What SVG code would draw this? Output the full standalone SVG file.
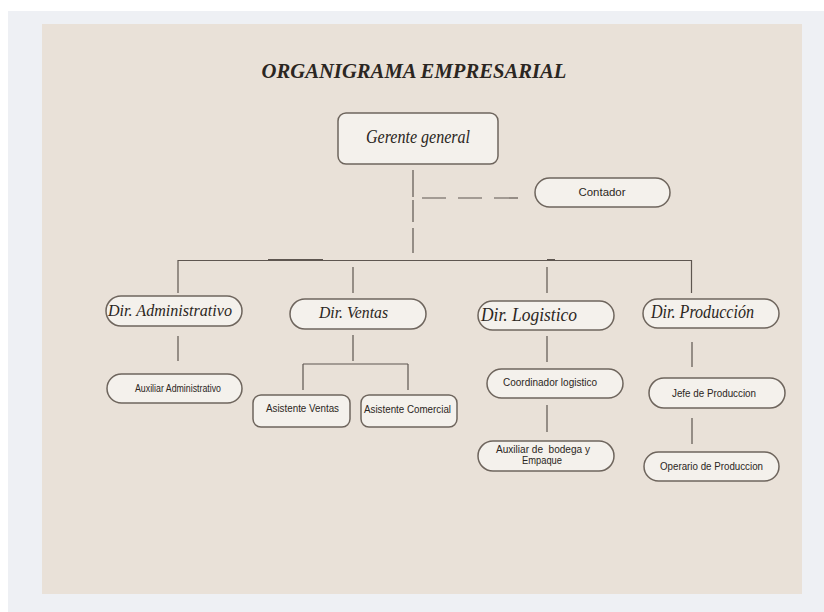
<svg xmlns="http://www.w3.org/2000/svg" width="824" height="612" viewBox="0 0 824 612">
<defs>
<style>
.node{fill:#f4f1ec;stroke:#6e655d;stroke-width:1.5}
.ln{stroke:#5e5650;stroke-width:1.2;fill:none}
.thick{stroke:#5e5650;stroke-width:2;fill:none}
.dash{stroke:#5e5650;stroke-width:1.2;fill:none;stroke-dasharray:24 12}
.ser{font-family:"Liberation Serif","DejaVu Serif",serif;font-style:italic;fill:#2b2622;text-anchor:middle}
.san{font-family:"Liberation Sans",Arial,sans-serif;fill:#2b2622;text-anchor:middle;font-size:10px}
</style>
</defs>
<rect x="0" y="0" width="824" height="612" fill="#ffffff"/>
<rect x="8" y="11" width="816" height="601" fill="#eef0f4"/>
<rect x="42" y="24" width="760" height="570" fill="#e9e1d8"/>

<text class="ser" x="414" y="78" font-size="22" font-weight="bold" textLength="305" lengthAdjust="spacingAndGlyphs">ORGANIGRAMA EMPRESARIAL</text>

<g id="connectors">
<path class="ln" d="M413 170V197M413 200V222M413 228V253"/>
<path class="dash" d="M422 198H520"/>
<path class="ln" d="M178 260.5H691"/>
<path class="thick" d="M268 260H323M547 260H555"/>
<path class="ln" d="M178 260V293"/>
<path class="ln" d="M353 267V293"/>
<path class="ln" d="M547 267V293"/>
<path class="ln" d="M691.5 260V293"/>
<path class="ln" d="M178 336V361"/>
<path class="ln" d="M353 335V361M303 364H408M303 364V390M408 364V390"/>
<path class="ln" d="M547 336V362M547 405V432"/>
<path class="ln" d="M692 342V367M692 418V444"/>
</g>

<g id="gerente">
<rect class="node" x="338" y="113" width="160" height="51" rx="8"/>
<text class="ser" x="418" y="143" font-size="18" textLength="104" lengthAdjust="spacingAndGlyphs">Gerente general</text>
</g>
<g id="contador">
<rect class="node" x="535" y="178" width="135" height="29" rx="14.5"/>
<text class="san" x="602" y="196" font-size="11" textLength="47" lengthAdjust="spacingAndGlyphs">Contador</text>
</g>

<g id="dir-admin">
<rect class="node" x="106" y="296" width="136" height="30" rx="15"/>
<text class="ser" x="170" y="316" font-size="16" textLength="124" lengthAdjust="spacingAndGlyphs">Dir. Administrativo</text>
</g>
<g id="dir-ventas">
<rect class="node" x="290" y="299" width="136" height="30" rx="15"/>
<text class="ser" x="353.5" y="318" font-size="16" textLength="69" lengthAdjust="spacingAndGlyphs">Dir. Ventas</text>
</g>
<g id="dir-logistico">
<rect class="node" x="478" y="301" width="136" height="29" rx="14.5"/>
<text class="ser" x="529" y="321" font-size="18" textLength="96" lengthAdjust="spacingAndGlyphs">Dir. Logistico</text>
</g>
<g id="dir-produccion">
<rect class="node" x="643" y="299" width="136" height="29" rx="14.5"/>
<text class="ser" x="702.5" y="318" font-size="18" textLength="103" lengthAdjust="spacingAndGlyphs">Dir. Producción</text>
</g>

<g id="aux-admin">
<rect class="node" x="107" y="374" width="135" height="29" rx="14.5"/>
<text class="san" x="178" y="392" textLength="86" lengthAdjust="spacingAndGlyphs">Auxiliar Administrativo</text>
</g>
<g id="asist-ventas">
<rect class="node" x="253" y="395" width="97" height="32" rx="8"/>
<text class="san" x="302.5" y="412" textLength="73" lengthAdjust="spacingAndGlyphs">Asistente Ventas</text>
</g>
<g id="asist-comercial">
<rect class="node" x="361" y="395" width="96" height="32" rx="8"/>
<text class="san" x="407.5" y="413" textLength="87" lengthAdjust="spacingAndGlyphs">Asistente Comercial</text>
</g>
<g id="coord-logistico">
<rect class="node" x="487" y="369" width="136" height="29" rx="14.5"/>
<text class="san" x="550" y="386" textLength="94" lengthAdjust="spacingAndGlyphs">Coordinador logistico</text>
</g>
<g id="aux-bodega">
<rect class="node" x="478" y="441" width="136" height="30" rx="15"/>
<text class="san" x="543" y="453" style="white-space:pre" textLength="94" lengthAdjust="spacingAndGlyphs">Auxiliar de  bodega y</text>
<text class="san" x="542" y="464" textLength="40" lengthAdjust="spacingAndGlyphs">Empaque</text>
</g>
<g id="jefe-produccion">
<rect class="node" x="649" y="378" width="136" height="30" rx="15"/>
<text class="san" x="714" y="397" textLength="84" lengthAdjust="spacingAndGlyphs">Jefe de Produccion</text>
</g>
<g id="operario-produccion">
<rect class="node" x="644" y="452" width="135" height="29" rx="14.5"/>
<text class="san" x="711.5" y="470" textLength="103" lengthAdjust="spacingAndGlyphs">Operario de Produccion</text>
</g>
</svg>
